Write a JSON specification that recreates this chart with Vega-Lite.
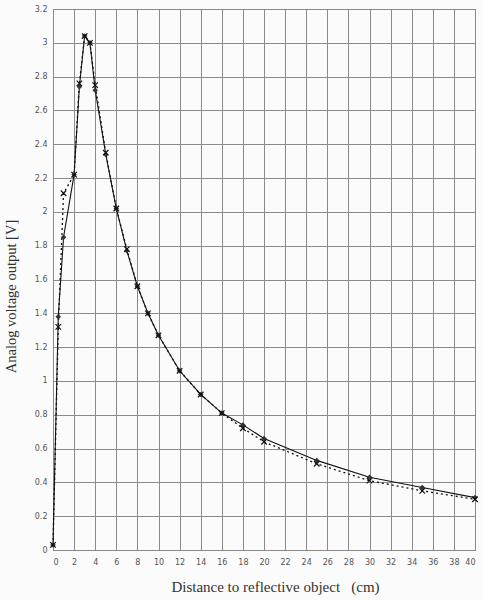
{
  "$schema": "https://vega.github.io/schema/vega-lite/v6.json",
  "autosize": "none",
  "width": 422,
  "height": 541,
  "padding": {"left": 53, "top": 9, "right": 8, "bottom": 50},
  "background": "#fbfbfb",
  "config": {
    "view": {"stroke": "#777", "strokeWidth": 1},
    "axis": {
      "gridColor": "#8a8a8a",
      "gridOpacity": 1,
      "gridWidth": 1,
      "domain": false,
      "ticks": false,
      "labelFont": "DejaVu Sans",
      "labelFontSize": 8,
      "labelColor": "#555",
      "titleFont": "Liberation Serif",
      "titleFontWeight": "normal",
      "titleFontSize": 14.5,
      "titleColor": "#333"
    }
  },
  "datasets": {
    "measured": [
      {"d": 0, "v": 0.03, "s": "A"},
      {"d": 0.5, "v": 1.38, "s": "A"},
      {"d": 1, "v": 1.85, "s": "A"},
      {"d": 2, "v": 2.22, "s": "A"},
      {"d": 2.5, "v": 2.74, "s": "A"},
      {"d": 3, "v": 3.04, "s": "A"},
      {"d": 3.5, "v": 3.0, "s": "A"},
      {"d": 4, "v": 2.72, "s": "A"},
      {"d": 5, "v": 2.34, "s": "A"},
      {"d": 6, "v": 2.02, "s": "A"},
      {"d": 7, "v": 1.77, "s": "A"},
      {"d": 8, "v": 1.56, "s": "A"},
      {"d": 9, "v": 1.4, "s": "A"},
      {"d": 10, "v": 1.27, "s": "A"},
      {"d": 12, "v": 1.06, "s": "A"},
      {"d": 14, "v": 0.92, "s": "A"},
      {"d": 16, "v": 0.81, "s": "A"},
      {"d": 18, "v": 0.74, "s": "A"},
      {"d": 20, "v": 0.66, "s": "A"},
      {"d": 25, "v": 0.53, "s": "A"},
      {"d": 30, "v": 0.43, "s": "A"},
      {"d": 35, "v": 0.37, "s": "A"},
      {"d": 40, "v": 0.31, "s": "A"},
      {"d": 0, "v": 0.03, "s": "B"},
      {"d": 0.5, "v": 1.32, "s": "B"},
      {"d": 1, "v": 2.11, "s": "B"},
      {"d": 2, "v": 2.22, "s": "B"},
      {"d": 2.5, "v": 2.76, "s": "B"},
      {"d": 3, "v": 3.04, "s": "B"},
      {"d": 3.5, "v": 3.0, "s": "B"},
      {"d": 4, "v": 2.75, "s": "B"},
      {"d": 5, "v": 2.35, "s": "B"},
      {"d": 6, "v": 2.02, "s": "B"},
      {"d": 7, "v": 1.78, "s": "B"},
      {"d": 8, "v": 1.56, "s": "B"},
      {"d": 9, "v": 1.4, "s": "B"},
      {"d": 10, "v": 1.27, "s": "B"},
      {"d": 12, "v": 1.06, "s": "B"},
      {"d": 14, "v": 0.92, "s": "B"},
      {"d": 16, "v": 0.81, "s": "B"},
      {"d": 18, "v": 0.72, "s": "B"},
      {"d": 20, "v": 0.64, "s": "B"},
      {"d": 25, "v": 0.51, "s": "B"},
      {"d": 30, "v": 0.41, "s": "B"},
      {"d": 35, "v": 0.35, "s": "B"},
      {"d": 40, "v": 0.3, "s": "B"}
    ]
  },
  "data": {"name": "measured"},
  "encoding": {
    "x": {
      "field": "d", "type": "quantitative",
      "scale": {"domain": [0, 40], "nice": false},
      "axis": {"values": [0,2,4,6,8,10,12,14,16,18,20,22,24,26,28,30,32,34,36,38,40], "format": "~g", "labelPadding": 8, "title": "Distance to reflective object \u00a0\u00a0(cm)", "titleFontSize": 15, "titlePadding": 13, "titleX": 222}
    },
    "y": {
      "field": "v", "type": "quantitative",
      "scale": {"domain": [0, 3.2], "nice": false},
      "axis": {"values": [0,0.2,0.4,0.6,0.8,1,1.2,1.4,1.6,1.8,2,2.2,2.4,2.6,2.8,3,3.2], "format": ".1~f", "labelPadding": 6, "title": "Analog voltage output [V]", "titlePadding": 16, "titleY": 287}
    }
  },
  "layer": [
    {
      "transform": [{"filter": "datum.s === 'B'"}],
      "mark": {"type": "line", "color": "#111", "strokeWidth": 1.3, "strokeDash": [2, 3]}
    },
    {
      "transform": [{"filter": "datum.s === 'A'"}],
      "mark": {"type": "line", "color": "#111", "strokeWidth": 1.1}
    },
    {
      "transform": [{"filter": "datum.s === 'A'"}],
      "mark": {"type": "point", "shape": "diamond", "filled": true, "color": "#333", "size": 30, "opacity": 1}
    },
    {
      "transform": [{"filter": "datum.s === 'B'"}],
      "mark": {"type": "point", "shape": "M-1,-1L1,1M-1,1L1,-1", "filled": false, "color": "#111", "strokeWidth": 1.2, "size": 30, "opacity": 1}
    }
  ]
}
